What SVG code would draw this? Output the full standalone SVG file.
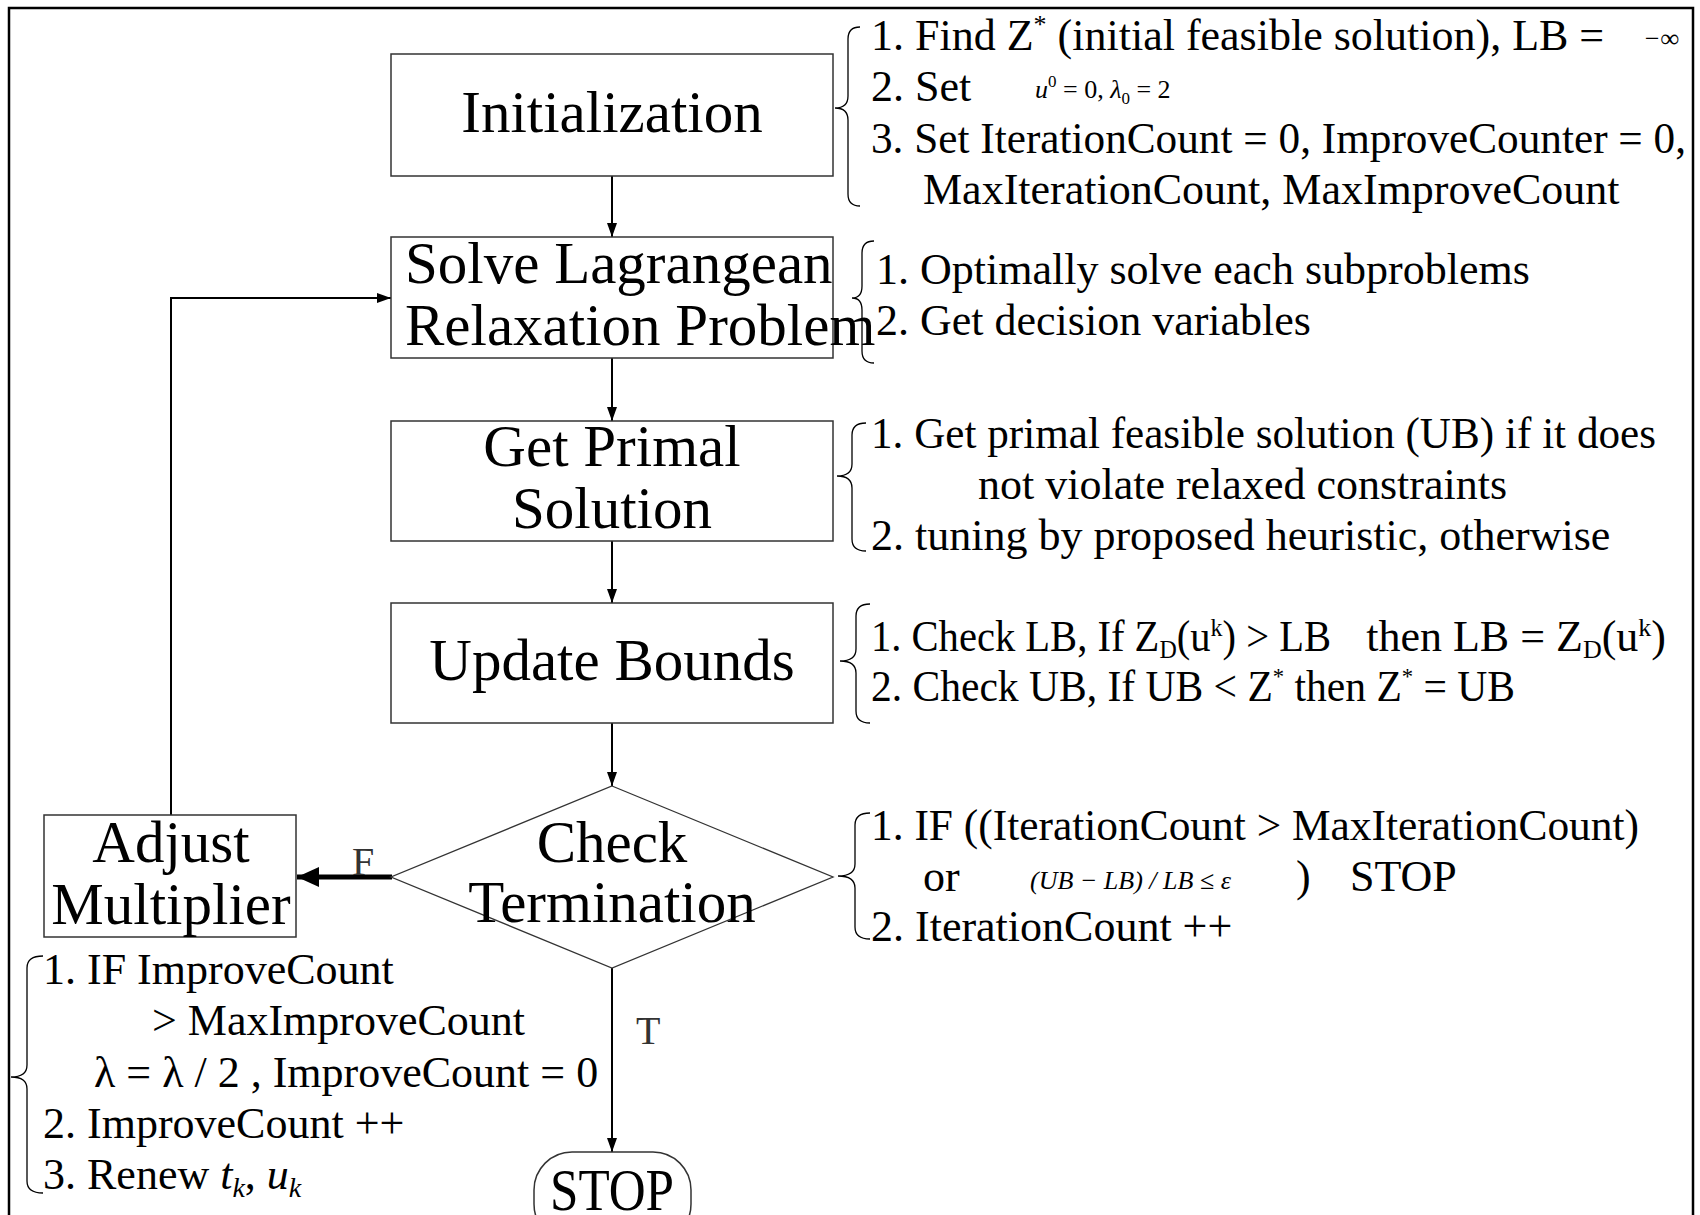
<svg xmlns="http://www.w3.org/2000/svg" width="1700" height="1215" viewBox="0 0 1700 1215">
<defs>
<marker id="ah" markerWidth="14" markerHeight="10" refX="14" refY="5" orient="auto" markerUnits="userSpaceOnUse">
<path d="M0,0 L14,5 L0,10 Z" fill="#000"/>
</marker>
<marker id="ahb" markerWidth="22" markerHeight="20" refX="22" refY="10" orient="auto" markerUnits="userSpaceOnUse">
<path d="M0,0 L22,10 L0,20 Z" fill="#000"/>
</marker>
<style>
.box{fill:#fff;stroke:#333;stroke-width:1.5}
.node{font-family:"Liberation Serif","Times New Roman",serif;font-size:59px;fill:#000}
.ann{font-family:"Liberation Serif","Times New Roman",serif;font-size:44px;fill:#000}
.math{font-family:"Liberation Serif","Times New Roman",serif;font-size:26px;font-style:italic;fill:#000}
.brace{fill:none;stroke:#000;stroke-width:1.3}
.conn{fill:none;stroke:#000;stroke-width:2}
.lbl{font-family:"Liberation Serif","Times New Roman",serif;font-size:40px;fill:#333}
</style>
</defs>
<rect x="9" y="8" width="1684" height="1240" fill="#fff" stroke="#000" stroke-width="2.5"/>

<g id="connectors">
<line class="conn" x1="612" y1="176" x2="612" y2="237" marker-end="url(#ah)"/>
<line class="conn" x1="612" y1="358" x2="612" y2="421" marker-end="url(#ah)"/>
<line class="conn" x1="612" y1="541" x2="612" y2="603" marker-end="url(#ah)"/>
<line class="conn" x1="612" y1="723" x2="612" y2="786" marker-end="url(#ah)"/>
<line class="conn" x1="612" y1="968" x2="612" y2="1152" marker-end="url(#ah)"/>
<line x1="392" y1="877" x2="297" y2="877" stroke="#000" stroke-width="5" marker-end="url(#ahb)"/>
<polyline class="conn" points="171,815 171,298 391,298" marker-end="url(#ah)"/>
<text class="lbl" x="352" y="875">F</text>
<text class="lbl" x="636" y="1044">T</text>
</g>

<g id="init">
<rect class="box" x="391" y="54" width="442" height="122"/>
<text class="node" x="612" y="132" text-anchor="middle">Initialization</text>
</g>
<g id="solve">
<rect class="box" x="391" y="237" width="442" height="121"/>
<text class="node" x="405" y="283">Solve Lagrangean</text>
<text class="node" x="405" y="345">Relaxation Problem</text>
</g>
<g id="primal">
<rect class="box" x="391" y="421" width="442" height="120"/>
<text class="node" x="612" y="466" text-anchor="middle">Get Primal</text>
<text class="node" x="612" y="528" text-anchor="middle">Solution</text>
</g>
<g id="update">
<rect class="box" x="391" y="603" width="442" height="120"/>
<text class="node" x="612" y="680" text-anchor="middle">Update Bounds</text>
</g>
<g id="check">
<polygon points="612,786 833,877 612,968 391,877" fill="#fff" stroke="#333" stroke-width="1.3"/>
<text class="node" x="612" y="862" text-anchor="middle">Check</text>
<text class="node" x="612" y="922" text-anchor="middle">Termination</text>
</g>
<g id="adjust">
<rect class="box" x="44" y="815" width="252" height="122"/>
<text class="node" x="171" y="862" text-anchor="middle">Adjust</text>
<text class="node" x="171" y="924" text-anchor="middle">Multiplier</text>
</g>
<g id="stop">
<rect class="box" x="534" y="1152" width="157" height="90" rx="38" ry="38"/>
<text class="node" x="612" y="1210" text-anchor="middle" font-size="54" textLength="124" lengthAdjust="spacingAndGlyphs">STOP</text>
</g>

<g id="init-notes">
<path class="brace" d="M860,27 Q848,27 848,39 L848,96 Q848,108 835,108 Q848,108 848,120 L848,194 Q848,206 860,206"/>
<text class="ann" x="871" y="50">1. Find Z<tspan font-size="26" dy="-17">*</tspan><tspan dy="17"> (initial feasible solution), LB =</tspan></text>
<text class="math" x="1643" y="47" font-style="normal" font-size="24">−∞</text>
<text class="ann" x="871" y="101">2. Set</text>
<text class="math" x="1035" y="98">u<tspan font-size="17" font-style="normal" dy="-11">0</tspan><tspan font-style="normal" dy="11"> = 0, </tspan>λ<tspan font-size="17" font-style="normal" dy="6">0</tspan><tspan font-style="normal" dy="-6"> = 2</tspan></text>
<text class="ann" x="871" y="153" textLength="815" lengthAdjust="spacingAndGlyphs">3. Set IterationCount = 0, ImproveCounter = 0,</text>
<text class="ann" x="923" y="204">MaxIterationCount, MaxImproveCount</text>
</g>

<g id="solve-notes">
<path class="brace" d="M874,241 Q862,241 862,253 L862,286 Q862,298 852,298 Q862,298 862,310 L862,351 Q862,363 874,363"/>
<text class="ann" x="876" y="284">1. Optimally solve each subproblems</text>
<text class="ann" x="876" y="335">2. Get decision variables</text>
</g>

<g id="primal-notes">
<path class="brace" d="M866,423 Q852,423 852,435 L852,464 Q852,476 837,476 Q852,476 852,488 L852,539 Q852,551 866,551"/>
<text class="ann" x="871" y="448" textLength="785" lengthAdjust="spacingAndGlyphs">1. Get primal feasible solution (UB) if it does</text>
<text class="ann" x="978" y="499">not violate relaxed constraints</text>
<text class="ann" x="871" y="550">2. tuning by proposed heuristic, otherwise</text>
</g>

<g id="update-notes">
<path class="brace" d="M870,604 Q856,604 856,616 L856,649 Q856,661 840,661 Q856,661 856,673 L856,711 Q856,723 870,723"/>
<text class="ann" x="871" y="651" textLength="460" lengthAdjust="spacingAndGlyphs">1. Check LB, If Z<tspan font-size="26" dy="7">D</tspan><tspan dy="-7">(u</tspan><tspan font-size="26" dy="-15">k</tspan><tspan dy="15">) &gt; LB</tspan></text>
<text class="ann" x="1666" y="651" text-anchor="end">then LB = Z<tspan font-size="26" dy="7">D</tspan><tspan dy="-7">(u</tspan><tspan font-size="26" dy="-15">k</tspan><tspan dy="15">)</tspan></text>
<text class="ann" x="871" y="701" textLength="644" lengthAdjust="spacingAndGlyphs">2. Check UB, If UB &lt; Z<tspan font-size="24" dy="-17">*</tspan><tspan dy="17"> then Z</tspan><tspan font-size="24" dy="-17">*</tspan><tspan dy="17"> = UB</tspan></text>
</g>

<g id="check-notes">
<path class="brace" d="M870,813 Q855,813 855,825 L855,864 Q855,876 838,876 Q855,876 855,888 L855,927 Q855,939 870,939"/>
<text class="ann" x="871" y="840" textLength="768" lengthAdjust="spacingAndGlyphs">1. IF ((IterationCount &gt; MaxIterationCount)</text>
<text class="ann" x="923" y="891">or</text>
<text class="math" x="1030" y="889">(UB − LB) / LB ≤ ε</text>
<text class="ann" x="1296" y="891">)</text>
<text class="ann" x="1350" y="891">STOP</text>
<text class="ann" x="871" y="941">2. IterationCount ++</text>
</g>

<g id="adjust-notes">
<path class="brace" d="M43,956 Q27,956 27,968 L27,1065 Q27,1077 11,1077 Q27,1077 27,1089 L27,1181 Q27,1193 43,1193"/>
<text class="ann" x="43" y="984">1. IF ImproveCount</text>
<text class="ann" x="152" y="1035">&gt; MaxImproveCount</text>
<text class="ann" x="94" y="1087">λ = λ / 2  , ImproveCount = 0</text>
<text class="ann" x="43" y="1138">2. ImproveCount ++</text>
<text class="ann" x="43" y="1189">3. Renew <tspan font-style="italic">t</tspan><tspan font-style="italic" font-size="28" dy="8">k</tspan><tspan dy="-8">, </tspan><tspan font-style="italic">u</tspan><tspan font-style="italic" font-size="28" dy="8">k</tspan></text>
</g>
</svg>
